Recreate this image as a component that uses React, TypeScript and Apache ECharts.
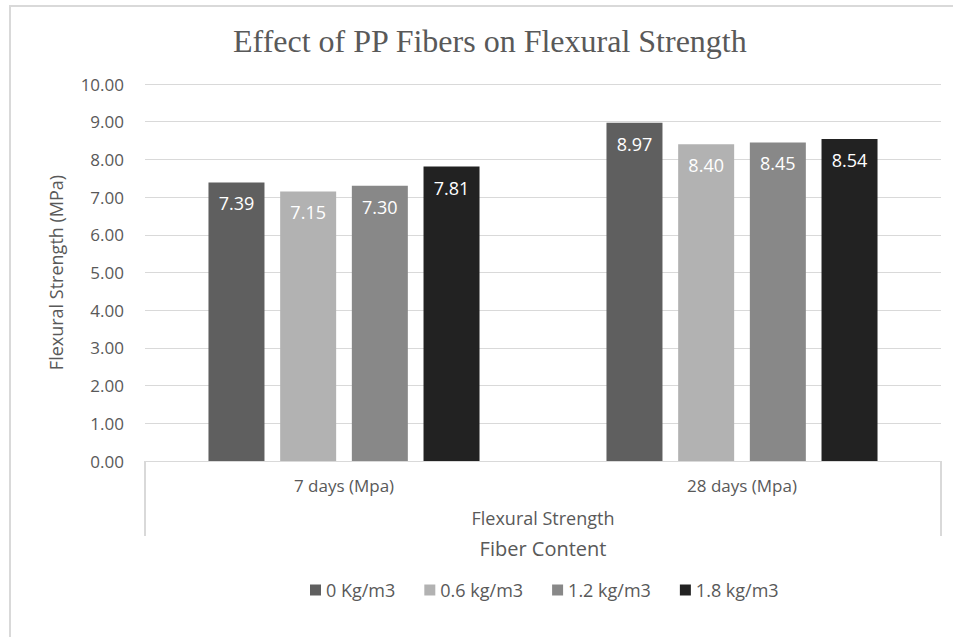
import React, { useEffect, useRef } from "react";
import * as echarts from "echarts";

const categories = ["7 days (Mpa)", "28 days (Mpa)"];
const groupLabels = ["Flexural Strength"];
const seriesNames = ["0 Kg/m3", "0.6 kg/m3", "1.2 kg/m3", "1.8 kg/m3"];
const values0 = [7.39, 8.97];
const values06 = [7.15, 8.4];
const values12 = [7.3, 8.45];
const values18 = [7.81, 8.54];
const colors = ["#5f5f5f", "#b2b2b2", "#888888", "#222222"];

const SANS = "'Open Sans', sans-serif";
const GREY = "#595959";
const LINE = "#d9d9d9";

export default function App() {
  const ref = useRef<HTMLDivElement>(null);
  useEffect(() => {
    if (!ref.current) return;
    const chart = echarts.init(ref.current, null, { renderer: "svg" });
    const data = [values0, values06, values12, values18];
    chart.setOption({
      animation: false,
      backgroundColor: "#ffffff",
      title: {
        text: "Effect of PP Fibers on Flexural Strength",
        left: 228,
        top: 20,
        textStyle: {
          fontFamily: "'Liberation Serif', 'Times New Roman', serif",
          fontSize: 32,
          fontWeight: "normal",
          color: GREY,
        },
      },
      graphic: [
        {
          type: "rect",
          shape: { x: 10, y: 6, width: 980, height: 700 },
          style: { fill: "none", stroke: LINE, lineWidth: 2 },
          silent: true,
        },
      ],
      legend: {
        bottom: 33,
        left: 305,
        itemWidth: 11,
        itemHeight: 11,
        itemGap: 29,
        icon: "rect",
        textStyle: { fontFamily: SANS, fontSize: 18, color: GREY },
        data: seriesNames,
      },
      grid: { left: 145, right: 12, top: 84, bottom: 176 },
      xAxis: [
        {
          type: "category",
          data: categories,
          axisLine: { show: true, lineStyle: { color: LINE, width: 1 } },
          axisTick: { show: false },
          axisLabel: { margin: 16, fontFamily: SANS, fontSize: 17, color: GREY },
          name: "Fiber Content",
          nameLocation: "middle",
          nameGap: 77,
          nameTextStyle: { fontFamily: SANS, fontSize: 20, color: GREY },
        },
        {
          type: "category",
          data: groupLabels,
          position: "bottom",
          axisLine: { show: false },
          axisTick: { show: true, length: 75, lineStyle: { color: LINE, width: 2 } },
          axisLabel: { margin: 48, fontFamily: SANS, fontSize: 18, color: GREY },
          splitLine: { show: false },
        },
      ],
      yAxis: {
        type: "value",
        min: 0,
        max: 10,
        interval: 1,
        axisLine: { show: false },
        axisTick: { show: false },
        axisLabel: {
          margin: 21,
          fontFamily: SANS,
          fontSize: 17,
          color: GREY,
          formatter: (v: number) => v.toFixed(2),
        },
        splitLine: { lineStyle: { color: LINE, width: 1 } },
        name: "Flexural Strength (MPa)",
        nameLocation: "middle",
        nameGap: 80,
        nameTextStyle: { fontFamily: SANS, fontSize: 18, color: GREY },
      },
      series: seriesNames.map((name, i) => ({
        name,
        type: "bar",
        xAxisIndex: 0,
        data: data[i],
        barWidth: 56,
        barGap: "28%",
        itemStyle: { color: colors[i] },
        label: {
          show: true,
          position: "insideTop",
          distance: 12,
          color: "#ffffff",
          fontFamily: SANS,
          fontSize: 18,
          formatter: (p: any) => Number(p.value).toFixed(2),
        },
      })),
    });
    return () => chart.dispose();
  }, []);
  return (
    <div
      ref={ref}
      style={{ position: "absolute", left: 0, top: 0, width: 953, height: 637 }}
    />
  );
}
